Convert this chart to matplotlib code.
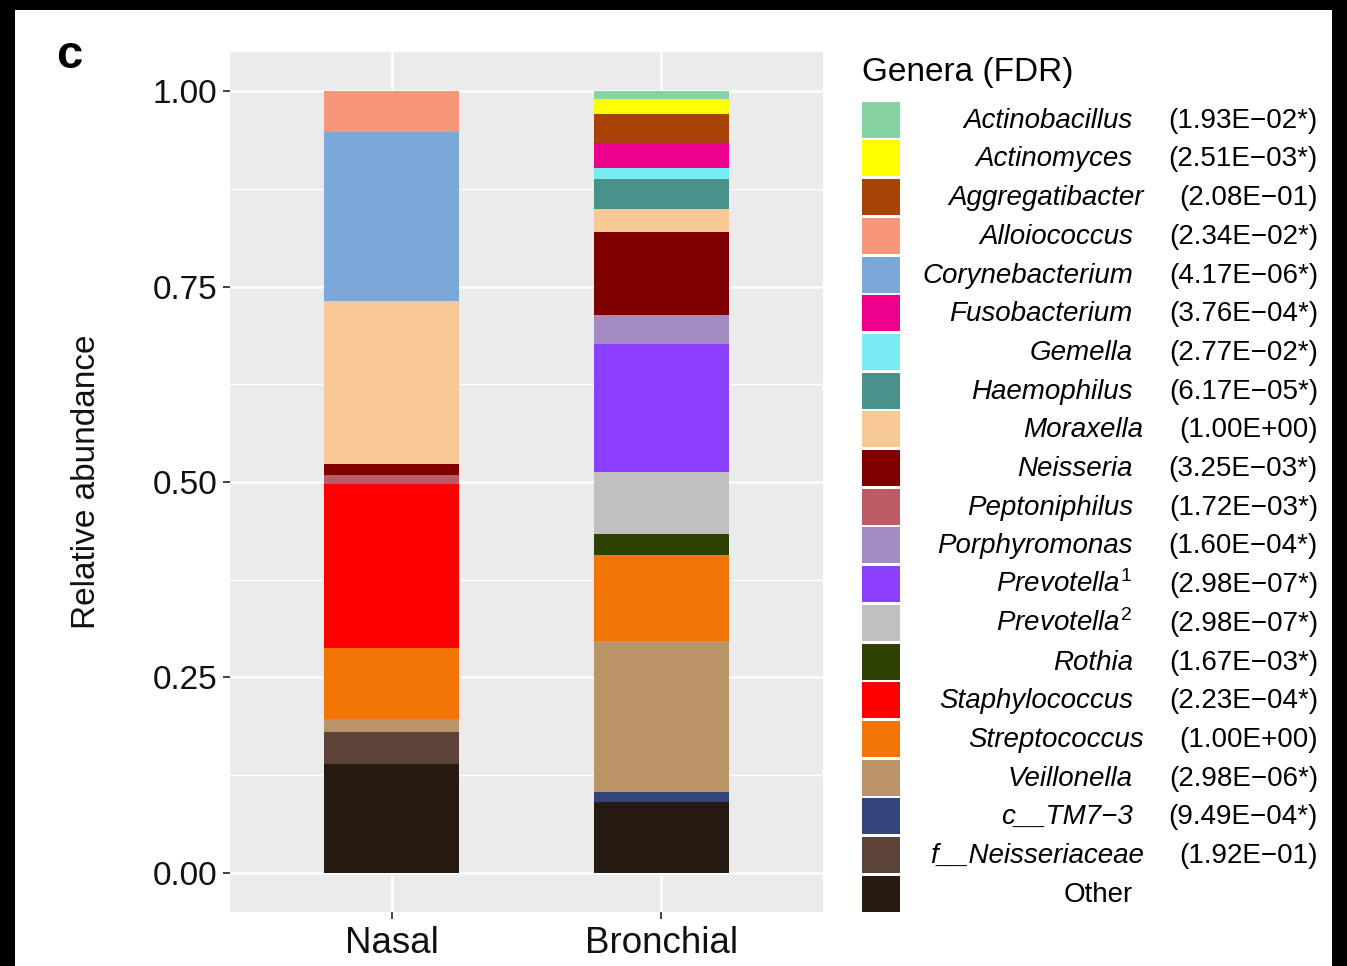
import matplotlib
matplotlib.use("Agg")
import matplotlib.pyplot as plt
from matplotlib.patches import Rectangle

plt.rcParams['font.family'] = ['Liberation Sans', 'DejaVu Sans']
plt.rcParams['mathtext.fontset'] = 'custom'
plt.rcParams['mathtext.it'] = 'Liberation Sans:italic'
plt.rcParams['mathtext.rm'] = 'Liberation Sans'

# legend order (top of stack first)
genera = ["Actinobacillus", "Actinomyces", "Aggregatibacter", "Alloiococcus",
          "Corynebacterium", "Fusobacterium", "Gemella", "Haemophilus",
          "Moraxella", "Neisseria", "Peptoniphilus", "Porphyromonas",
          "Prevotella1", "Prevotella2", "Rothia", "Staphylococcus",
          "Streptococcus", "Veillonella", "c__TM7\u22123", "f__Neisseriaceae", "Other"]
fdr = ["(1.93E\u221202*)", "(2.51E\u221203*)", "(2.08E\u221201)", "(2.34E\u221202*)",
       "(4.17E\u221206*)", "(3.76E\u221204*)", "(2.77E\u221202*)", "(6.17E\u221205*)",
       "(1.00E+00)", "(3.25E\u221203*)", "(1.72E\u221203*)", "(1.60E\u221204*)",
       "(2.98E\u221207*)", "(2.98E\u221207*)", "(1.67E\u221203*)", "(2.23E\u221204*)",
       "(1.00E+00)", "(2.98E\u221206*)", "(9.49E\u221204*)", "(1.92E\u221201)", ""]
nasal = [0, 0, 0, 0.0525, 0.216, 0, 0, 0, 0.209, 0.014, 0.0115, 0,
         0, 0, 0, 0.209, 0.091, 0.017, 0, 0.041, 0.139]
bronchial = [0.010, 0.019, 0.037, 0, 0, 0.032, 0.015, 0.038, 0.029, 0.107, 0,
             0.036, 0.164, 0.079, 0.027, 0, 0.110, 0.194, 0.012, 0, 0.091]
colors = ["#88D3A4", "#FFFF00", "#A84306", "#F8967A", "#7BA8D8", "#EC008C",
          "#78ECF3", "#49928B", "#F8C994", "#800000", "#BA5B66", "#A58BC3",
          "#8C40FF", "#C0C0C0", "#2D4100", "#FF0000", "#F17404", "#B89467",
          "#33457A", "#5B4437", "#271A13"]
samples = ["Nasal", "Bronchial"]

W, H = 1347, 966
fig = plt.figure(figsize=(W / 100, H / 100), dpi=100)
ax = fig.add_axes([230 / W, 1 - 912 / H, 593 / W, 860 / H])
ax.set_facecolor("#EBEBEB")
for s in ax.spines.values():
    s.set_visible(False)

xpos = [1, 2]
vals = [nasal, bronchial]
bottoms = [0.0, 0.0]
# stack from the bottom: last legend entry first
for i in range(len(genera) - 1, -1, -1):
    heights = [vals[0][i], vals[1][i]]
    ax.bar(xpos, heights, width=0.5, bottom=bottoms, color=colors[i],
           edgecolor="none", zorder=3)
    bottoms = [bottoms[0] + heights[0], bottoms[1] + heights[1]]

ax.set_xlim(0.4, 2.6)
ax.set_ylim(-0.05, 1.05)
ax.set_yticks([0, 0.25, 0.5, 0.75, 1.0])
ax.set_yticklabels(["0.00", "0.25", "0.50", "0.75", "1.00"])
ax.set_yticks([0.125, 0.375, 0.625, 0.875], minor=True)
ax.set_xticks(xpos)
ax.set_xticklabels(samples)
ax.grid(which="major", color="white", linewidth=1.8, zorder=0)
ax.grid(which="minor", axis="y", color="white", linewidth=1.0, zorder=0)
ax.set_axisbelow(True)
ax.tick_params(axis="y", which="major", length=5, width=1.3, color="#333333",
               pad=4, labelsize=24, labelcolor="#111111")
ax.tick_params(axis="x", which="major", length=5, width=1.3, color="#333333",
               pad=5, labelsize=26.5, labelcolor="#111111")
ax.tick_params(which="minor", length=0)

fig.text(87 / W, 1 - 482 / H, "Relative abundance", rotation=90, fontsize=24,
         ha="center", va="center", color="#111111")
fig.text(56 / W, 1 - 68 / H, "c", fontsize=34, fontweight="bold",
         ha="left", va="baseline")

# legend
fig.text(862 / W, 1 - 81 / H, "Genera (FDR)", fontsize=24, ha="left", va="baseline")
renderer = fig.canvas.get_renderer()
for i, g in enumerate(genera):
    yc = 119.7 + i * 38.7
    fig.add_artist(Rectangle((862 / W, 1 - (yc + 18) / H), 38 / W, 36 / H,
                             transform=fig.transFigure, facecolor=colors[i],
                             edgecolor="none"))
    yb = 1 - (yc + 8) / H
    if g == "Other":
        fig.text(1133 / W, yb, g, fontsize=20, ha="right", va="baseline")
        continue
    t = fig.text(1318 / W, yb, fdr[i], fontsize=20, ha="right", va="baseline")
    bb = t.get_window_extent(renderer)
    right = bb.x0 - 36
    if g.startswith("Prevotella"):
        label = r"$\mathit{Prevotella}^{\mathrm{" + g[-1] + "}}$"
        fig.text(right / W, yb, label, fontsize=20, ha="right", va="baseline")
    else:
        fig.text(right / W, yb, g, fontsize=20, style="italic",
                 ha="right", va="baseline")

# black frame around the picture
fig.add_artist(Rectangle((0, 1 - 10 / H), 1, 10 / H, transform=fig.transFigure,
                         facecolor="black", edgecolor="none"))
fig.add_artist(Rectangle((0, 0), 15 / W, 1, transform=fig.transFigure,
                         facecolor="black", edgecolor="none"))
fig.add_artist(Rectangle((1332 / W, 0), 15 / W, 1, transform=fig.transFigure,
                         facecolor="black", edgecolor="none"))

fig.savefig("out.png", dpi=100)
